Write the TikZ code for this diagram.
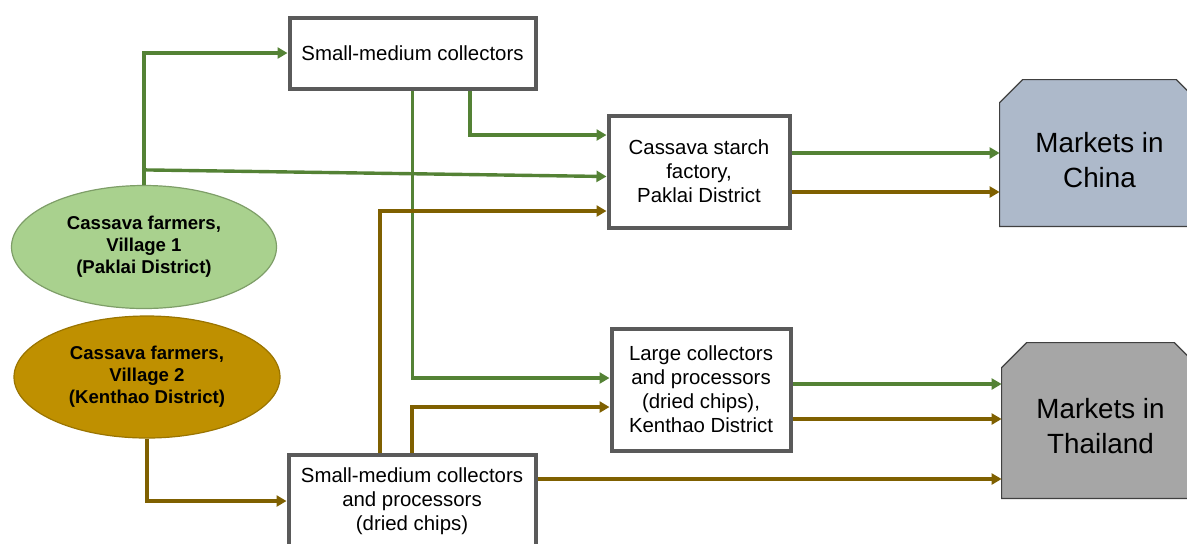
\documentclass[tikz,border=0pt]{standalone}
\usepackage{fontspec}
\setmainfont{Liberation Sans}
\usetikzlibrary{arrows.meta,shapes.geometric,calc}

\definecolor{flowgreen}{HTML}{548235}
\definecolor{flowbrown}{HTML}{7F6000}
\definecolor{boxgray}{HTML}{5A5A5A}
\definecolor{farmgreen}{HTML}{A9D18E}
\definecolor{farmgreenline}{HTML}{7E9E68}
\definecolor{farmgold}{HTML}{BF9000}
\definecolor{farmgoldline}{HTML}{9A7400}
\definecolor{chinafill}{HTML}{ADB9CA}
\definecolor{thaifill}{HTML}{A6A6A6}
\definecolor{marketline}{HTML}{404040}

\tikzset{
  actor/.style={draw=boxgray, line width=2pt, fill=white, align=center,
    inner sep=2pt, font=\fontsize{10.2}{12}\selectfont},
  farm/.style={ellipse, line width=0.6pt, align=center, inner sep=0pt,
    font=\fontsize{9.3}{11}\selectfont\bfseries},
  market/.style={inner sep=0pt, align=center,
    font=\fontsize{13.9}{17.5}\selectfont},
  gline/.style={draw=flowgreen, line width=1.7pt},
  bline/.style={draw=flowbrown, line width=1.7pt},
  garrow/.style={gline, -{Triangle[length=5pt,width=5.5pt]}},
  barrow/.style={bline, -{Triangle[length=5pt,width=5.5pt]}},
}

\begin{document}
\begin{tikzpicture}[x=0.5pt, y=-0.5pt]
\useasboundingbox (0,0) rectangle (1187,543);

% intermediaries
\node[actor, minimum width=123pt, minimum height=35.5pt] (smc) at (412.5,53)
  {Small-medium collectors};
\node[actor, minimum width=90.5pt, minimum height=56pt] (fac) at (699,171.5)
  {Cassava starch\\factory,\\ Paklai District};
\node[actor, minimum width=89.5pt, minimum height=61pt] (large) at (701,389.5)
  {Large collectors\\and processors\\(dried chips),\\Kenthao District};
\node[actor, minimum width=123.5pt, minimum height=46pt] (smcp) at (412,501)
  {Small-medium collectors\\and processors\\(dried chips)};

% farmers
\node[farm, fill=farmgreen, draw=farmgreenline, minimum width=132.5pt,
  minimum height=61.5pt] (v1) at (144,247)
  {\raisebox{-1pt}{\shortstack{Cassava farmers,\\[-0.5pt]Village 1\\[-0.5pt](Paklai District)}}};
\node[farm, fill=farmgold, draw=farmgoldline, minimum width=133pt,
  minimum height=61pt] (v2) at (147,377)
  {Cassava farmers,\\Village 2\\(Kenthao District)};

% markets: chamfered outlines around empty frame nodes
\node[minimum width=99.5pt, minimum height=73pt, inner sep=0pt] (china) at (1099.5,153) {};
\node[minimum width=98.5pt, minimum height=77.5pt, inner sep=0pt] (thai) at (1100.5,420.5) {};
\fill[chinafill] (china.south west) -- ($(china.north west)+(0,23)$)
  -- ($(china.north west)+(23,0)$) -- ($(china.north east)+(-23,0)$)
  -- ($(china.north east)+(0,23)$) -- (china.south east) -- cycle;
\draw[marketline, line width=0.6pt] (china.south east) -- (china.south west)
  -- ($(china.north west)+(0,23)$) -- ($(china.north west)+(23,0)$)
  -- ($(china.north east)+(-23,0)$) -- ($(china.north east)+(0,23)$)
  -- (china.south east);
\fill[thaifill] (thai.south west) -- ($(thai.north west)+(0,25)$)
  -- ($(thai.north west)+(25,0)$) -- ($(thai.north east)+(-25,0)$)
  -- ($(thai.north east)+(0,25)$) -- (thai.south east) -- cycle;
\draw[marketline, line width=0.6pt] (thai.south east) -- (thai.south west)
  -- ($(thai.north west)+(0,25)$) -- ($(thai.north west)+(25,0)$)
  -- ($(thai.north east)+(-25,0)$) -- ($(thai.north east)+(0,25)$)
  -- (thai.south east);
\node[market, yshift=-3.5pt] (chinatext) at (china) {Markets in\\China};
\node[market, yshift=-3pt] (thaitext) at (thai) {Markets in\\Thailand};

% Village 1 flows (green)
\coordinate (j1) at ($(v1.north)+(0,-15)$);
\draw[garrow] (v1.north) |- (smc.west);
\draw[garrow] (j1) -- ([yshift=-2.5pt]fac.west);
\draw[garrow] ([xshift=28.75pt]smc.south) |- ([yshift=18.25pt]fac.west);
\draw[garrow] (smc.south) |- ([yshift=5.75pt]large.west);
\draw[garrow] ([yshift=9.25pt]fac.east) -- ([yshift=9.25pt]fac.east -| china.west);
\draw[garrow] ([yshift=2.75pt]large.east) -- ([yshift=2.75pt]large.east -| thai.west);

% Village 2 flows (brown)
\draw[barrow] (v2.south) |- (smcp.west);
\draw[barrow] ([xshift=-16pt]smcp.north) |- ([yshift=-19.75pt]fac.west);
\draw[barrow] (smcp.north) |- ([yshift=-8.75pt]large.west);
\draw[barrow] ([yshift=-10.25pt]fac.east) -- ([yshift=-10.25pt]fac.east -| china.west);
\draw[barrow] ([yshift=-14.75pt]large.east) -- ([yshift=-14.75pt]large.east -| thai.west);
\draw[barrow] ([yshift=11pt]smcp.east) -- ([yshift=11pt]smcp.east -| thai.west);
\end{tikzpicture}
\end{document}
